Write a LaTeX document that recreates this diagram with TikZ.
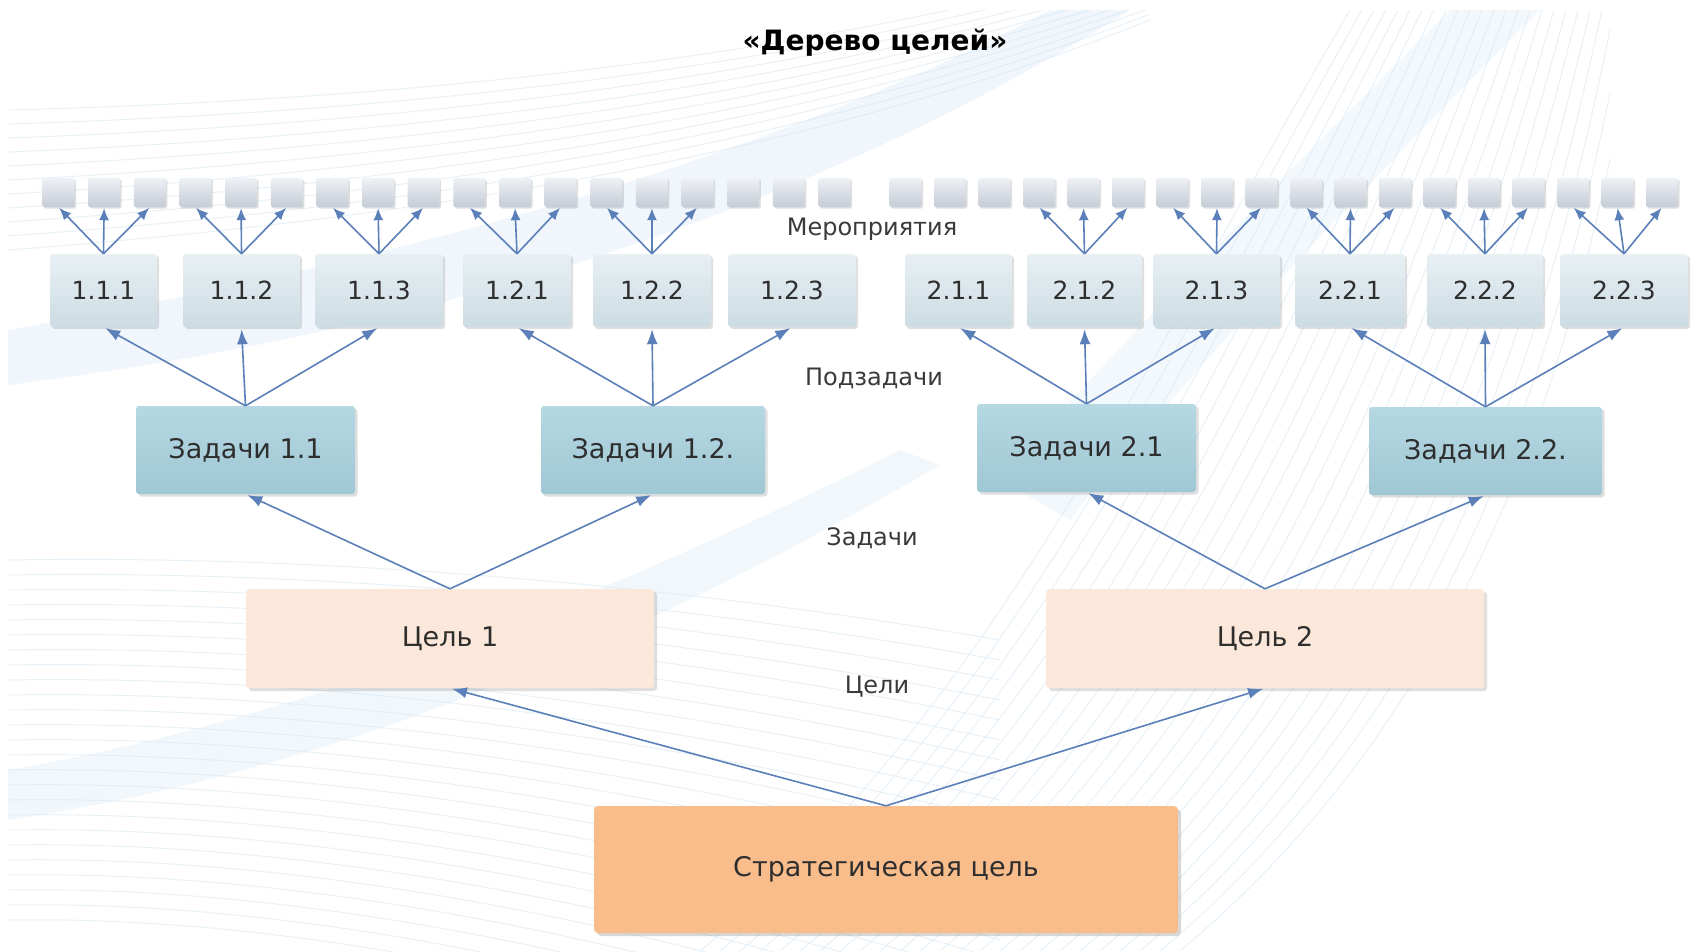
\documentclass[tikz,border=0pt]{standalone}
\usepackage{fontspec}
\setmainfont{DejaVu Sans}
\usetikzlibrary{arrows.meta,shadows}
\definecolor{txt}{HTML}{2E2E2E}
\definecolor{lbl}{HTML}{3A3A3A}
\definecolor{arrc}{HTML}{5B7FB8}
\definecolor{sqtop}{HTML}{EEF1F5}
\definecolor{sqbot}{HTML}{C5CCD6}
\definecolor{subtop}{HTML}{E8F0F4}
\definecolor{subbot}{HTML}{CCDCE3}
\definecolor{zadtop}{HTML}{B5D8E3}
\definecolor{zadbot}{HTML}{A0C7D4}
\definecolor{goal}{HTML}{FCE8DA}
\definecolor{strat}{HTML}{F9BC8B}
\definecolor{bgl}{HTML}{D5E6F3}
\definecolor{bgband}{HTML}{E3EFF8}
\begin{document}
\begin{tikzpicture}[x=1pt,y=-1pt,
  sqbox/.style={minimum width=32pt,minimum height=29pt,inner sep=0pt,rounded corners=2pt,
    top color=sqtop,bottom color=sqbot,
    drop shadow={shadow xshift=1.5pt,shadow yshift=-1.5pt,opacity=0.25}},
  subbox/.style={minimum height=73pt,inner sep=0pt,rounded corners=3pt,
    top color=subtop,bottom color=subbot,text=txt,font=\fontsize{25}{30}\selectfont,
    drop shadow={shadow xshift=2pt,shadow yshift=-2pt,opacity=0.25}},
  zadbox/.style={minimum height=88pt,inner sep=0pt,rounded corners=3pt,
    top color=zadtop,bottom color=zadbot,text=txt,font=\fontsize{27}{32}\selectfont,
    drop shadow={shadow xshift=2.5pt,shadow yshift=-2.5pt,opacity=0.25}},
  goalbox/.style={minimum height=99pt,inner sep=0pt,rounded corners=3pt,
    fill=goal,text=txt,font=\fontsize{27}{32}\selectfont,
    drop shadow={shadow xshift=3pt,shadow yshift=-3pt,opacity=0.25}},
  stratbox/.style={minimum width=584pt,minimum height=127pt,inner sep=0pt,rounded corners=4pt,
    fill=strat,text=txt,font=\fontsize{27}{32}\selectfont,
    drop shadow={shadow xshift=3pt,shadow yshift=-3pt,opacity=0.3}},
  lvl/.style={text=lbl,font=\fontsize{24}{28}\selectfont,inner sep=0pt},
  ttl/.style={text=black,font=\bfseries\fontsize{28}{32}\selectfont,inner sep=0pt},
  arr/.style={draw=arrc,line width=1.6pt,-{Latex[length=15pt,width=11pt]},shorten >=2pt},
  arrs/.style={draw=arrc,line width=1.6pt,-{Latex[length=12pt,width=10pt]},shorten >=1pt},
  bgline/.style={draw=bgl,line width=1pt,opacity=0.55}
]
\useasboundingbox (0,0) rectangle (1697,951);
\fill[white] (0,0) rectangle (1697,951);

% ---------- background decoration ----------
\begin{scope}
\clip (8,10) rectangle (1610,951);
\fill[bgband,opacity=0.5] (8,330) .. controls (350,270) and (750,170) .. (1050,10)
  -- (1130,10) .. controls (830,200) and (450,330) .. (8,385) -- cycle;
\fill[bgband,opacity=0.45] (8,770) .. controls (300,720) and (600,600) .. (900,450)
  -- (940,465) .. controls (640,640) and (340,770) .. (8,820) -- cycle;
\fill[bgband,opacity=0.4] (1000,480) .. controls (1150,310) and (1300,160) .. (1450,10)
  -- (1540,10) .. controls (1370,180) and (1200,360) .. (1070,520) -- cycle;
\foreach \i in {0,...,24}{
  \draw[bgline] (8,{560+\i*15}) .. controls (300,{555+\i*15}) and (650,{580+\i*17}) .. (1000,{640+\i*20});
}
\foreach \i in {0,...,24}{
  \draw[bgline] ({700+\i*20},951) .. controls ({1000+\i*20},700) and ({1150+\i*18},350) .. ({1350+\i*12},10);
}
\foreach \i in {0,...,10}{
  \draw[bgline] (8,{110+\i*14}) .. controls (400,{100+\i*12}) and (800,{60+\i*10}) .. (1150,{-40+\i*6});
}
\end{scope}

% ---------- title and level labels ----------
\node[ttl] (title) at (875,43) {«Дерево целей»};
\node[lvl] (lm) at (872,229) {Мероприятия};
\node[lvl] (lp) at (874,378) {Подзадачи};
\node[lvl] (lz) at (872,538) {Задачи};
\node[lvl] (lc) at (877,687) {Цели};

% ---------- activity squares ----------
\foreach \i in {1,...,18}{
  \node[sqbox] (a\i) at ({58.5+(\i-1)*45.65},192.5) {};
  \node[sqbox] (b\i) at ({905.5+(\i-1)*44.5},192.5) {};
}

% ---------- subtasks ----------
\node[subbox,minimum width=107pt] (s111) at (103.5,290.5) {1.1.1};
\node[subbox,minimum width=117pt] (s112) at (241.5,290.5) {1.1.2};
\node[subbox,minimum width=128pt] (s113) at (379,290.5) {1.1.3};
\node[subbox,minimum width=108pt] (s121) at (517,290.5) {1.2.1};
\node[subbox,minimum width=118pt] (s122) at (652,290.5) {1.2.2};
\node[subbox,minimum width=128pt] (s123) at (792,290.5) {1.2.3};
\node[subbox,minimum width=107pt] (s211) at (958.5,290.5) {2.1.1};
\node[subbox,minimum width=115pt] (s212) at (1084.5,290.5) {2.1.2};
\node[subbox,minimum width=127pt] (s213) at (1216.5,290.5) {2.1.3};
\node[subbox,minimum width=110pt] (s221) at (1350,290.5) {2.2.1};
\node[subbox,minimum width=116pt] (s222) at (1485,290.5) {2.2.2};
\node[subbox,minimum width=128pt] (s223) at (1624,290.5) {2.2.3};

% ---------- tasks ----------
\node[zadbox,minimum width=219pt] (z11) at (245.5,450) {Задачи 1.1};
\node[zadbox,minimum width=224pt] (z12) at (653,450) {Задачи 1.2.};
\node[zadbox,minimum width=219pt] (z21) at (1086.5,448) {Задачи 2.1};
\node[zadbox,minimum width=233pt] (z22) at (1485.5,451) {Задачи 2.2.};

% ---------- goals ----------
\node[goalbox,minimum width=408pt] (g1) at (450,638.5) {Цель 1};
\node[goalbox,minimum width=438pt] (g2) at (1265,638.5) {Цель 2};

% ---------- strategic goal ----------
\node[stratbox] (sg) at (886,869.5) {Стратегическая цель};

% ---------- connectors ----------
\draw[arr] (sg.north) -- (g1.south);
\draw[arr] (sg.north) -- (g2.south);
\draw[arr] (g1.north) -- (z11.south);
\draw[arr] (g1.north) -- (z12.south);
\draw[arr] (g2.north) -- (z21.south);
\draw[arr] (g2.north) -- (z22.south);
\foreach \z/\a/\b/\c in {z11/s111/s112/s113, z12/s121/s122/s123, z21/s211/s212/s213, z22/s221/s222/s223}{
  \draw[arr] (\z.north) -- (\a.south);
  \draw[arr] (\z.north) -- (\b.south);
  \draw[arr] (\z.north) -- (\c.south);
}
\foreach \s/\x/\y/\w in {s111/a1/a2/a3, s112/a4/a5/a6, s113/a7/a8/a9, s121/a10/a11/a12, s122/a13/a14/a15,
                        s212/b4/b5/b6, s213/b7/b8/b9, s221/b10/b11/b12, s222/b13/b14/b15, s223/b16/b17/b18}{
  \draw[arrs] (\s.north) -- (\x.south);
  \draw[arrs] (\s.north) -- (\y.south);
  \draw[arrs] (\s.north) -- (\w.south);
}
\end{tikzpicture}
\end{document}
